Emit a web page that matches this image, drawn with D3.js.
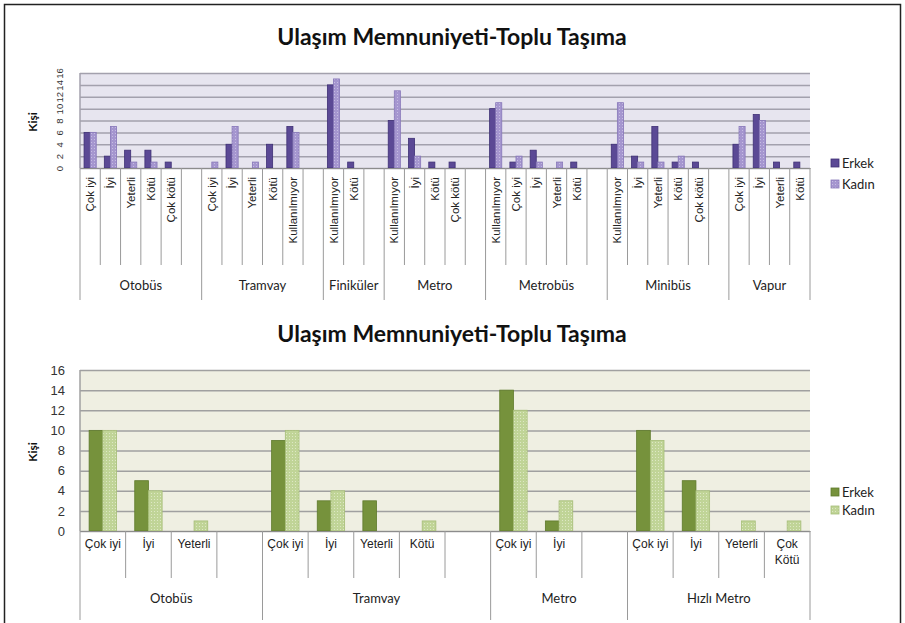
<!DOCTYPE html>
<html>
<head>
<meta charset="utf-8">
<script src="https://cdn.jsdelivr.net/npm/d3@7"></script>
<style>
  body { margin: 0; background: #fff; }
  svg { font-family: Lato, "Open Sans", sans-serif; }
</style>
</head>
<body>
<script>
/*** Data ***/
const seriesNames = ['Erkek', 'Kadın']
const yTicks = [0, 2, 4, 6, 8, 10, 12, 14, 16]
const chartTitle = 'Ulaşım Memnuniyeti-Toplu Taşıma'
const yTitle = 'Kişi'

// top chart ('' = empty slot, as in the original sheet)
const topGroups = ['Otobüs', 'Tramvay', 'Finiküler', 'Metro', 'Metrobüs', 'Minibüs', 'Vapur']
const topLabels = [
  ['Çok iyi', 'İyi', 'Yeterli', 'Kötü', 'Çok kötü', ''],
  ['Çok iyi', 'İyi', 'Yeterli', 'Kötü', 'Kullanılmıyor', ''],
  ['Kullanılmıyor', 'Kötü', ''],
  ['Kullanılmıyor', 'İyi', 'Kötü', 'Çok kötü', ''],
  ['Kullanılmıyor', 'Çok iyi', 'İyi', 'Yeterli', 'Kötü', ''],
  ['Kullanılmıyor', 'İyi', 'Yeterli', 'Kötü', 'Çok kötü', ''],
  ['Çok iyi', 'İyi', 'Yeterli', 'Kötü']
]
const topErkek = [
  [6, 2, 3, 3, 1, null],
  [0, 4, 0, 4, 7, null],
  [14, 1, null],
  [8, 5, 1, 1, null],
  [10, 1, 3, 0, 1, null],
  [4, 2, 7, 1, 1, null],
  [4, 9, 1, 1]
]
const topKadin = [
  [6, 7, 1, 1, 0, null],
  [1, 7, 1, 0, 6, null],
  [15, 0, null],
  [13, 2, 0, 0, null],
  [11, 2, 1, 1, 0, null],
  [11, 1, 1, 2, 0, null],
  [7, 8, 0, 0]
]

// bottom chart
const botGroups = ['Otobüs', 'Tramvay', 'Metro', 'Hızlı Metro']
const botLabels = [
  ['Çok iyi', 'İyi', 'Yeterli', ''],
  ['Çok iyi', 'İyi', 'Yeterli', 'Kötü', ''],
  ['Çok iyi', 'İyi', ''],
  ['Çok iyi', 'İyi', 'Yeterli', 'Çok Kötü']
]
const botErkek = [
  [10, 5, 0, null],
  [9, 3, 3, 0, null],
  [14, 1, null],
  [10, 5, 0, 0]
]
const botKadin = [
  [10, 4, 1, null],
  [10, 4, 0, 1, null],
  [12, 3, null],
  [9, 4, 1, 1]
]

/*** Page ***/
w = 905
h = 623

svg = d3.select('body').append('svg')
  .attr('width', w)
  .attr('height', h)

defs = svg.append('defs')

function dotPattern(id, base, dot){
  let p = defs.append('pattern')
    .attr('id', id)
    .attr('width', 3).attr('height', 3)
    .attr('patternUnits', 'userSpaceOnUse')
  p.append('rect').attr('width', 3).attr('height', 3).attr('fill', base)
  p.append('rect').attr('x', 1).attr('y', 1).attr('width', 1).attr('height', 1).attr('fill', dot)
}
dotPattern('dotPurple', '#a596cf', '#c6bce3')
dotPattern('dotGreen', '#c0d497', '#dde8c4')

// frame
svg.append('rect')
  .attr('x', 4.5).attr('y', 4.5)
  .attr('width', 896).attr('height', 660)
  .attr('fill', 'none')
  .attr('stroke', '#222')
  .attr('stroke-width', 1.5)

function flatten(groups, labels, erkek, kadin){
  let rows = []
  groups.forEach((g, gi) => {
    labels[gi].forEach((l, li) => {
      rows.push({ key: gi + '-' + li, group: g, gi: gi, first: li == 0, label: l, vals: [erkek[gi][li], kadin[gi][li]] })
    })
  })
  return rows
}

function drawChart(c){
  let rows = flatten(c.groups, c.labels, c.erkek, c.kadin)

  let xScale = d3.scaleBand()
    .domain(rows.map(r => r.key))
    .range([c.left, c.right])

  let bw = xScale.bandwidth()

  let xSeries = d3.scaleBand()
    .domain(seriesNames)
    .range([0.2 * bw, 0.8 * bw])

  let yScale = d3.scaleLinear()
    .domain([0, 16])
    .range([c.bottom, c.top])

  let g = svg.append('g')

  // title
  g.append('text')
    .attr('x', 452).attr('y', c.titleY)
    .attr('text-anchor', 'middle')
    .attr('font-size', 23).attr('font-weight', 'bold')
    .attr('fill', '#111')
    .text(chartTitle)

  // plot background
  g.append('rect')
    .attr('x', c.left).attr('y', c.top)
    .attr('width', c.right - c.left).attr('height', c.bottom - c.top)
    .attr('fill', c.bg)

  // grid + y labels
  let yAxis = d3.axisLeft(yScale)
    .tickValues(yTicks)
    .tickSizeInner(-(c.right - c.left))
    .tickSizeOuter(0)
    .tickPadding(c.tickPad)

  let ya = g.append('g')
    .attr('transform', `translate(${c.left}, 0)`)
    .call(yAxis)
  ya.select('.domain').remove()
  ya.selectAll('line').attr('stroke', c.grid).attr('stroke-width', 1.5)
  ya.selectAll('text')
    .attr('font-size', c.yFont)
    .attr('fill', '#333')
  if (c.rotateY){
    ya.selectAll('text')
      .attr('transform', 'rotate(-90)')
      .attr('text-anchor', 'middle')
      .attr('x', 0)
      .attr('y', -c.tickPad)
      .attr('dy', '0em')
  }

  // left axis line
  g.append('line')
    .attr('x1', c.left).attr('x2', c.left)
    .attr('y1', c.top).attr('y2', c.bottom)
    .attr('stroke', c.grid).attr('stroke-width', 1.5)

  // y title
  g.append('text')
    .attr('transform', `translate(${c.yTitleX}, ${c.yTitleY}) rotate(-90)`)
    .attr('text-anchor', 'middle')
    .attr('font-size', 12).attr('font-weight', 'bold')
    .attr('fill', '#111')
    .text(yTitle)

  // bars
  let colors = c.colors
  rows.forEach(r => {
    r.vals.forEach((v, si) => {
      if (v == null || v == 0) return
      g.append('rect')
        .attr('x', xScale(r.key) + xSeries(seriesNames[si]))
        .attr('y', yScale(v))
        .attr('width', xSeries.bandwidth())
        .attr('height', yScale(0) - yScale(v))
        .attr('fill', colors[si])
        .attr('stroke', c.strokes[si])
        .attr('stroke-width', 0.8)
    })
  })

  // category axis (labels only)
  let xAxis = d3.axisBottom(xScale)
    .tickSize(0)
    .tickFormat(k => rows.find(r => r.key == k).label)

  let xa = g.append('g')
    .attr('transform', `translate(0, ${c.bottom})`)
    .call(xAxis)
  xa.select('.domain').attr('stroke', '#8c8c8c').attr('stroke-width', 1.2)
  xa.selectAll('text')
    .attr('font-size', c.xFont)
    .attr('fill', '#222')

  if (c.rotateX){
    xa.selectAll('text')
      .attr('transform', 'rotate(-90)')
      .attr('text-anchor', 'end')
      .attr('x', -c.xLabelOff)
      .attr('y', 0)
      .attr('dy', '.35em')
  } else {
    xa.selectAll('text').each(function(k){
      let label = rows.find(r => r.key == k).label
      let parts = label.split(' ')
      let t = d3.select(this).text('').attr('y', c.xLabelOff).attr('dy', '.71em')
      if (label == 'Çok Kötü'){
        t.append('tspan').attr('x', 0).text(parts[0])
        t.append('tspan').attr('x', 0).attr('dy', '1.35em').text(parts[1])
      } else {
        t.text(label)
      }
    })
  }

  // separators
  rows.forEach(r => {
    let x0 = xScale(r.key)
    g.append('line')
      .attr('x1', x0).attr('x2', x0)
      .attr('y1', c.bottom)
      .attr('y2', r.first ? c.groupSepEnd : c.sepEnd)
      .attr('stroke', '#9a9a9a').attr('stroke-width', 1)
  })
  g.append('line')
    .attr('x1', c.right).attr('x2', c.right)
    .attr('y1', c.bottom).attr('y2', c.groupSepEnd)
    .attr('stroke', '#9a9a9a').attr('stroke-width', 1)

  // group labels
  c.groups.forEach((grp, gi) => {
    let keys = rows.filter(r => r.gi == gi).map(r => r.key)
    let x0 = xScale(keys[0])
    let x1 = xScale(keys[keys.length - 1]) + bw
    g.append('text')
      .attr('x', (x0 + x1) / 2)
      .attr('y', c.groupLabelY)
      .attr('text-anchor', 'middle')
      .attr('font-size', 13)
      .attr('fill', '#222')
      .text(grp)
  })

  // legend
  seriesNames.forEach((s, si) => {
    g.append('rect')
      .attr('x', 831).attr('y', c.legendY[si] - 4)
      .attr('width', 8).attr('height', 8)
      .attr('fill', colors[si])
      .attr('stroke', c.strokes[si]).attr('stroke-width', 0.8)
    g.append('text')
      .attr('x', 842).attr('y', c.legendY[si])
      .attr('dy', '.35em')
      .attr('font-size', 13)
      .attr('fill', '#222')
      .text(s)
  })
}

drawChart({
  groups: topGroups, labels: topLabels, erkek: topErkek, kadin: topKadin,
  left: 80, right: 810, top: 73, bottom: 168,
  titleY: 45, bg: '#e7e5ef', grid: '#a3a1ad',
  colors: ['#5b4995', 'url(#dotPurple)'], strokes: ['#3f3075', '#8777b8'],
  tickPad: 17, yFont: 9.5, rotateY: true,
  yTitleX: 37, yTitleY: 122,
  rotateX: true, xFont: 11.5, xLabelOff: 9,
  sepEnd: 265, groupSepEnd: 300, groupLabelY: 290,
  legendY: [163, 184]
})

drawChart({
  groups: botGroups, labels: botLabels, erkek: botErkek, kadin: botKadin,
  left: 80, right: 810, top: 370, bottom: 531,
  titleY: 342, bg: '#efefe2', grid: '#a0a0a0',
  colors: ['#76923c', 'url(#dotGreen)'], strokes: ['#5f7a2c', '#a6bd78'],
  tickPad: 15, yFont: 13, rotateY: false,
  yTitleX: 37, yTitleY: 452,
  rotateX: false, xFont: 12, xLabelOff: 8,
  sepEnd: 578, groupSepEnd: 620, groupLabelY: 603,
  legendY: [492, 510]
})
</script>
</body>
</html>
